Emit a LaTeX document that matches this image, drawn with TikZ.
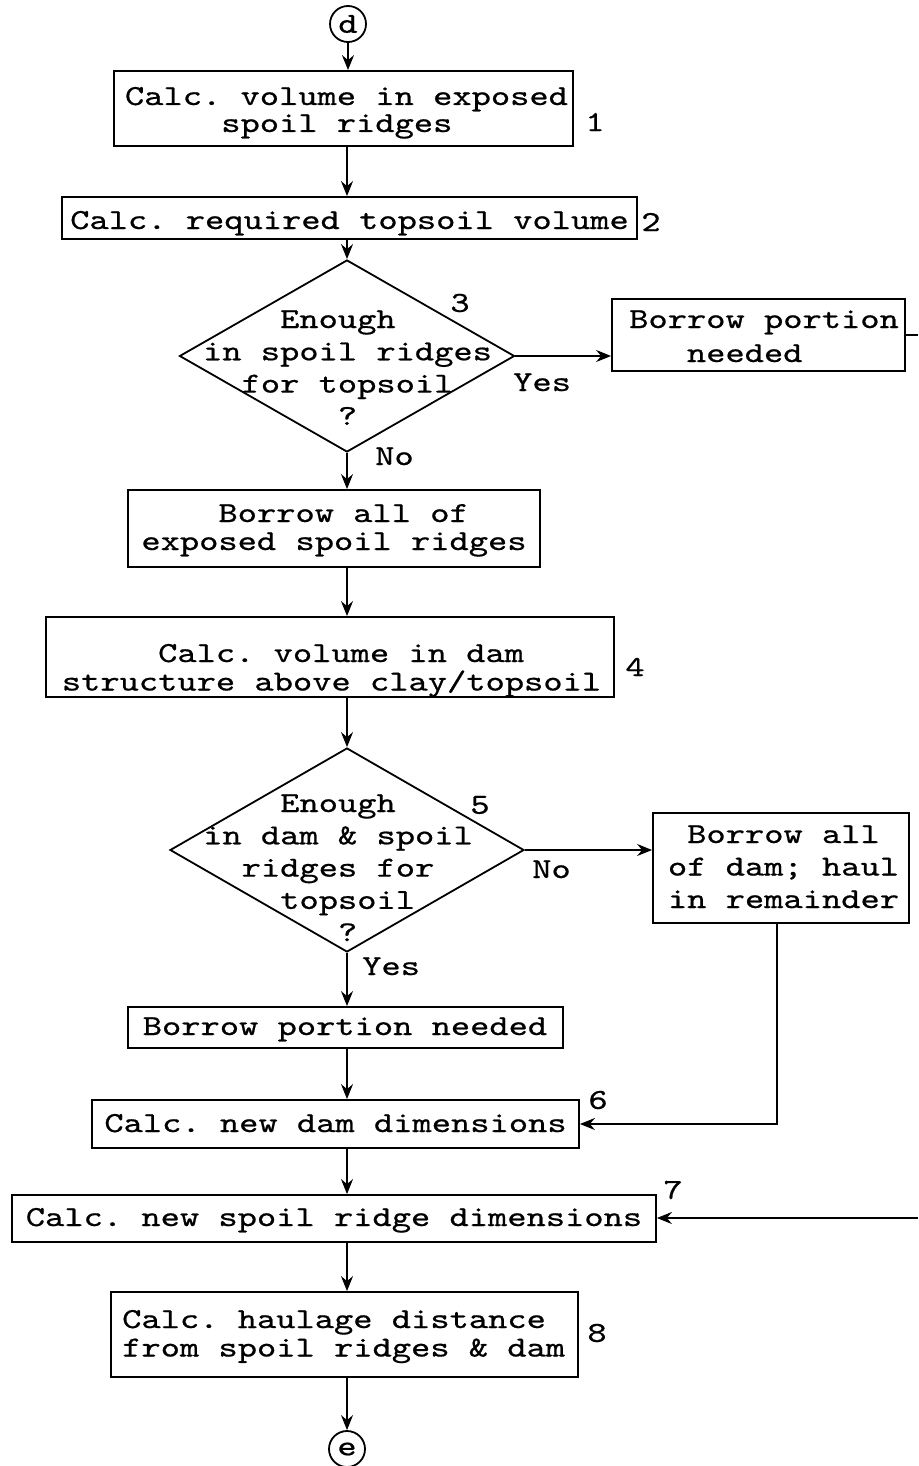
\documentclass[tikz,border=0pt]{standalone}
\usepackage{fontspec}
\usetikzlibrary{shapes.geometric,arrows.meta}

% typewriter face, slightly emboldened and widened to a pica look
\newfontfamily\cour{lmmono10-regular}[Extension=.otf, FakeBold=0.6]
\newcommand{\mtxt}[2]{\scalebox{1.265}[1]{\fontsize{29}{#1}\selectfont\frenchspacing\begin{tabular}[t]{@{}l@{}}#2\end{tabular}}}
\newcommand{\mone}[1]{\scalebox{1.265}[1]{\fontsize{29}{29}\selectfont\frenchspacing #1}}
\newcommand{\ind}[1]{\hspace*{#1\fontcharwd\font`x}}

\begin{document}
\begin{tikzpicture}[x=1pt,y=-1pt,
  box/.style={draw, rectangle, line width=1.8pt, inner sep=0pt},
  decision/.style={draw, diamond, line width=1.8pt, inner sep=0pt},
  conn/.style={draw, circle, line width=1.8pt, minimum size=36pt, inner sep=0pt, font=\cour},
  txt/.style={inner sep=0pt, font=\cour, anchor=base},
  num/.style={inner sep=0pt, font=\cour},
  flow/.style={line width=1.8pt, -{Stealth[length=15pt,width=12pt,inset=5pt]}},
  plain/.style={line width=1.8pt}]

\fill[white] (0,0) rectangle (918,1466);
\useasboundingbox (0,0) rectangle (918,1466);

% main column and the loose ends at the right margin
\coordinate (ax) at (347,0);
\coordinate (r3) at (918,333);
\coordinate (r7) at (918,1218);
\coordinate (rv) at (777,0);

% entry connector
\node[conn] (d) at (348,24) {\mone{d}};

% step 1
\node[box, minimum width=459pt, minimum height=75pt] (b1) at (343.5,108.5) {};
\node[txt] (t1) at (346.5,105) {\mtxt{27}{Calc. volume in exposed\\\ind{5}spoil ridges}};
\node[num] (n1) at (595,122) {\mone{1}};

% step 2
\node[box, minimum width=575pt, minimum height=42pt] (b2) at (349.5,218) {};
\node[txt] (t2) at (349.5,229) {\mtxt{27}{Calc. required topsoil volume}};
\node[num] (n2) at (651,222) {\mone{2}};

% decision 3
\node[decision, minimum width=335pt, minimum height=192pt] (d3) at (347,356) {};
\node[txt] (t3) at (347.5,328) {\mtxt{32.3}{\ind{4}Enough\\in spoil ridges\\\ind{2}for topsoil\\\ind{7}?}};
\node[num] (n3) at (460,303) {\mone{3}};

\node[box, minimum width=293pt, minimum height=72pt] (b3r) at (758.5,335) {};
\node[txt, anchor=base west] (t3r) at (629,328) {\mtxt{34}{Borrow portion\\\ind{3}needed}};

\node[box, minimum width=412pt, minimum height=77pt] (b3n) at (334,528.5) {};
\node[txt] (t3n) at (334,522) {\mtxt{28}{\ind{4}Borrow all of\\exposed spoil ridges}};

% step 4
\node[box, minimum width=568pt, minimum height=80pt] (b4) at (330,657) {};
\node[txt] (t4) at (331.5,662) {\mtxt{28}{\ind{5}Calc. volume in dam\\structure above clay/topsoil}};
\node[num] (n4) at (635,667) {\mone{4}};

% decision 5
\node[decision, minimum width=354pt, minimum height=204pt] (d5) at (347,850) {};
\node[txt] (t5) at (338,812) {\mtxt{32.3}{\ind{4}Enough\\in dam \& spoil\\\ind{2}ridges for\\\ind{4}topsoil\\\ind{7}?}};
\node[num] (n5) at (480,805) {\mone{5}};

\node[box, minimum width=256pt, minimum height=110pt] (b5r) at (781,868) {};
\node[txt] (t5r) at (783.5,843) {\mtxt{32.5}{\ind{1}Borrow all\\of dam; haul\\in remainder}};

\node[box, minimum width=435pt, minimum height=41pt] (b5y) at (345.5,1027.5) {};
\node[txt] (t5y) at (345,1035) {\mtxt{27}{Borrow portion needed}};

% step 6
\node[box, minimum width=487pt, minimum height=48pt] (b6) at (335.5,1124) {};
\node[txt] (t6) at (335.5,1132) {\mtxt{27}{Calc. new dam dimensions}};
\node[num] (n6) at (598,1100) {\mone{6}};

% step 7
\node[box, minimum width=644pt, minimum height=47pt] (b7) at (334,1218.5) {};
\node[txt] (t7) at (334,1226) {\mtxt{27}{Calc. new spoil ridge dimensions}};
\node[num] (n7) at (673,1190) {\mone{7}};

% step 8
\node[box, minimum width=467pt, minimum height=85pt] (b8) at (344.5,1334.5) {};
\node[txt, anchor=base west] (t8) at (122,1328) {\mtxt{28.5}{Calc. haulage distance\\from spoil ridges \& dam}};
\node[num] (n8) at (597,1333) {\mone{8}};

% exit connector
\node[conn] (e) at (347,1449) {\mone{e}};

% branch labels
\node[txt, anchor=base west] (y3) at (513,391) {\mone{Yes}};
\node[txt, anchor=base west] (no3) at (375,465) {\mone{No}};
\node[txt, anchor=base west] (no5) at (532,878) {\mone{No}};
\node[txt, anchor=base west] (y5) at (362,975) {\mone{Yes}};

% connectors
\draw[flow] (d.south) -- (d.south |- b1.north);
\draw[flow] (b1.south -| ax) -- (b2.north -| ax);
\draw[flow] (b2.south -| ax) -- (d3.north);
\draw[flow] (d3.east) -- (d3.east -| b3r.west);
\draw[plain] (b3r.east) -- (r3 |- b3r.east);
\draw[flow] (d3.south) -- (d3.south |- b3n.north);
\draw[flow] (b3n.south -| ax) -- (b4.north -| ax);
\draw[flow] (b4.south -| ax) -- (d5.north);
\draw[flow] (d5.east) -- (d5.east -| b5r.west);
\draw[flow] (d5.south) -- (d5.south |- b5y.north);
\draw[flow] (b5y.south -| ax) -- (b6.north -| ax);
\draw[flow] (b5r.south -| rv) |- (b6.east);
\draw[flow] (b6.south -| ax) -- (b7.north -| ax);
\draw[flow] (r7) -- (r7 -| b7.east);
\draw[flow] (b7.south -| ax) -- (b8.north -| ax);
\draw[flow] (b8.south -| ax) -- (e.north);

\end{tikzpicture}
\end{document}
